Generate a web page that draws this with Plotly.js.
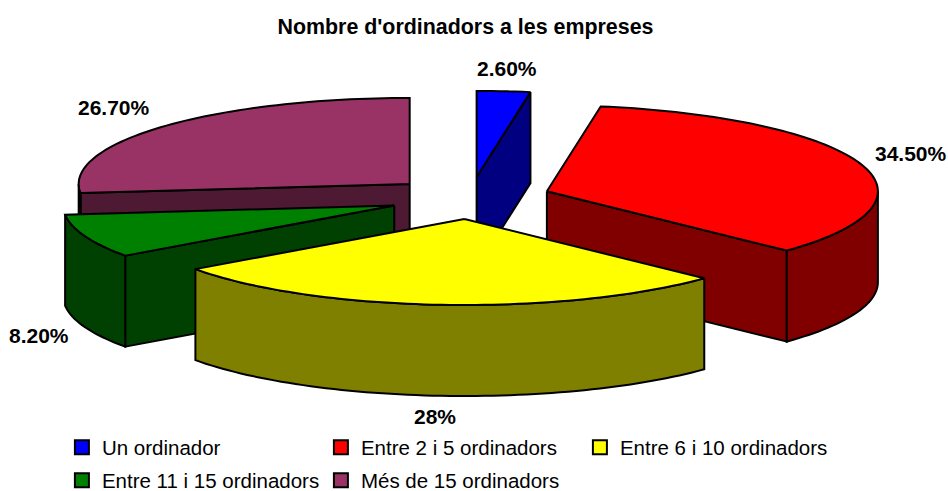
<!DOCTYPE html>
<html><head><meta charset="utf-8">
<script src="https://cdn.plot.ly/plotly-3.0.1.min.js"></script>
<style>html,body{margin:0;padding:0;background:#fff}#c{width:948px;height:491px}</style>
</head><body><div id="c"></div>
<script>
const categories = ["Un ordinador","Entre 2 i 5 ordinadors","Entre 6 i 10 ordinadors","Entre 11 i 15 ordinadors","Més de 15 ordinadors"];
const values = [2.6,34.5,28,8.2,26.7];
const valueLabels = ["2.60%","34.50%","28%","8.20%","26.70%"];
const topColors = ["#0000ff","#ff0000","#ffff00","#008000","#993366"];
const sideColors = ["#000080","#800000","#808000","#004000","#4d1933"];
const drawOrder = [4,0,3,1,2];
const labelSpots = [[507,68],[911,153],[435,416],[39,335],[114,107]];

// projection of the 3D pie onto the page (page pixels used as axis units)
const CX=470, CY=198, RX=331, RY=86, DEPTH=91, EXPLODE=0.245;
const rad=d=>d*Math.PI/180;
const total=values.reduce((a,b)=>a+b,0);
let acc=0;
const slices=values.map(v=>{const a0=acc/total*360; acc+=v; return {a0,a1:acc/total*360};});

function pt(ax,ay,deg){return [ax+RX*Math.sin(rad(deg)), ay-RY*Math.cos(rad(deg))];}
function arc(ax,ay,a0,a1){const n=Math.max(2,Math.ceil((a1-a0)/1.5)),o=[];for(let i=0;i<=n;i++)o.push(pt(ax,ay,a0+(a1-a0)*i/n));return o;}
function poly(points,fill){
  const closed=points.concat([points[0]]);
  return {x:closed.map(p=>p[0]),y:closed.map(p=>p[1]),mode:'lines',fill:'toself',fillcolor:fill,
    line:{color:'#000',width:2,simplify:false},hoverinfo:'skip',showlegend:false};
}
const traces=[];
drawOrder.forEach(i=>{
  const s=slices[i], mid=(s.a0+s.a1)/2;
  const ax=CX+EXPLODE*RX*Math.sin(rad(mid)), ay=CY-EXPLODE*RY*Math.cos(rad(mid));
  const drop=p=>[p[0],p[1]+DEPTH];
  const wall=(deg)=>{const p=pt(ax,ay,deg);return poly([[ax,ay],p,drop(p),[ax,ay+DEPTH]],sideColors[i]);};
  if(Math.sin(rad(s.a1))>0.001) traces.push(wall(s.a1));
  if(Math.sin(rad(s.a0))<-0.001) traces.push(wall(s.a0));
  const f0=Math.max(s.a0,90), f1=Math.min(s.a1,270);
  if(f1>f0){const a=arc(ax,ay,f0,f1);traces.push(poly(a.concat(a.slice().reverse().map(drop)),sideColors[i]));}
  traces.push(poly([[ax,ay]].concat(arc(ax,ay,s.a0,s.a1)),topColors[i]));
});
categories.forEach((c,i)=>traces.push({x:[null],y:[null],mode:'markers',name:c,legend:i<3?'legend':'legend2',
  marker:{symbol:'square',size:14,color:topColors[i],line:{color:'#000',width:2}},hoverinfo:'skip',showlegend:true}));

const FONT='"Liberation Sans", Arial, sans-serif';
const legendBase={orientation:'h',x:0.0653,xanchor:'left',yanchor:'middle',font:{family:FONT,size:20.5,color:'#000'},
    entrywidth:214,entrywidthmode:'pixels',traceorder:'normal',bgcolor:'rgba(0,0,0,0)',itemwidth:30};
const layout={
  width:948,height:491,margin:{l:0,r:0,t:0,b:0,autoexpand:false},paper_bgcolor:'#fff',plot_bgcolor:'#fff',
  title:{text:"<b>Nombre d'ordinadors a les empreses</b>",font:{family:FONT,size:21.4,color:'#000'},x:0.491,xanchor:'center',y:0.945,yanchor:'middle'},
  xaxis:{range:[0,948],visible:false,fixedrange:true},
  yaxis:{range:[491,0],visible:false,fixedrange:true},
  showlegend:true,
  legend:Object.assign({},legendBase,{y:1-447.5/491}),
  legend2:Object.assign({},legendBase,{y:1-480.5/491}),
  annotations:valueLabels.map((t,i)=>({x:labelSpots[i][0],y:labelSpots[i][1],xref:'x',yref:'y',text:'<b>'+t+'</b>',showarrow:false,
    font:{family:FONT,size:21,color:'#000'},xanchor:'center',yanchor:'middle'}))
};
Plotly.newPlot('c',traces,layout,{displayModeBar:false,staticPlot:true});
</script></body></html>
